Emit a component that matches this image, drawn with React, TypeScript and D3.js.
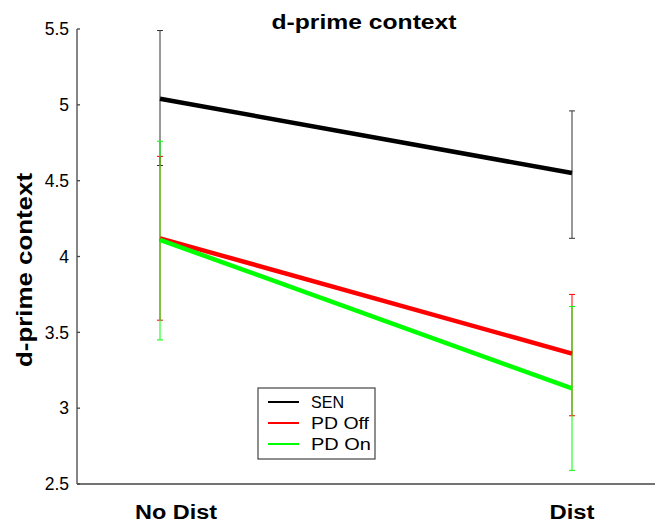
import React from 'react';
import * as d3 from 'd3';

const conditions = ['No Dist', 'Dist'];
const groups = ['SEN', 'PD Off', 'PD On'];
const colors = ['#000000', '#ff0000', '#00ff00'];
const barColors = ['#333333', '#ff0000', '#00ff00'];
const means = [
  [5.04, 4.55],
  [4.12, 3.36],
  [4.11, 3.13],
];
const upper = [
  [5.49, 4.96],
  [4.66, 3.75],
  [4.76, 3.67],
];
const lower = [
  [4.6, 4.12],
  [3.58, 2.95],
  [3.45, 2.59],
];
const yTicks = [2.5, 3, 3.5, 4, 4.5, 5, 5.5];

const W = 659;
const H = 524;
const left = 77;
const right = 655;
const top = 29;
const bottom = 484;

// measured widths of the stretched labels in the reference
const xLabelWidth = [82, 45];
const xLabelShift = [16, 0];
const legendWidth = [33, 58, 60];

export default function App() {
  const x = d3.scalePoint().domain(conditions).range([160, 572]);
  const y = d3.scaleLinear().domain([2.5, 5.5]).range([bottom, top]);
  const line = d3
    .line<number>()
    .x((_, i) => x(conditions[i]) as number)
    .y((d) => y(d));
  const font = 'Arial, "Liberation Sans", Helvetica, sans-serif';

  return (
    <svg
      width={W}
      height={H}
      style={{ position: 'absolute', left: 0, top: 0, background: '#fff' }}
      fontFamily={font}
    >
      {/* axes */}
      <line x1={left} x2={left} y1={top} y2={bottom} stroke="#444" strokeWidth={1.3} />
      <line x1={left} x2={right} y1={bottom} y2={bottom} stroke="#444" strokeWidth={1.3} />
      {yTicks.map((t) => (
        <g key={t}>
          <line x1={left} x2={left + 3} y1={y(t)} y2={y(t)} stroke="#444" strokeWidth={1.3} />
          <text x={69} y={y(t)} dy="0.36em" textAnchor="end" fontSize={17.5} fill="#000">
            {t}
          </text>
        </g>
      ))}
      {conditions.map((c, i) => (
        <text
          key={c}
          x={(x(c) as number) + xLabelShift[i]}
          y={519}
          textAnchor="middle"
          fontSize={20}
          fontWeight="bold"
          textLength={xLabelWidth[i]}
          lengthAdjust="spacingAndGlyphs"
        >
          {c}
        </text>
      ))}
      <text
        transform={`translate(32,270) rotate(-90)`}
        textAnchor="middle"
        fontSize={22}
        fontWeight="bold"
        textLength={194}
        lengthAdjust="spacingAndGlyphs"
      >
        d-prime context
      </text>
      <text
        x={364}
        y={29}
        textAnchor="middle"
        fontSize={20}
        fontWeight="bold"
        textLength={185}
        lengthAdjust="spacingAndGlyphs"
      >
        d-prime context
      </text>

      {/* error bars */}
      {groups.map((g, gi) =>
        conditions.map((c, ci) => {
          const cx = x(c) as number;
          return (
            <g key={g + c} stroke={barColors[gi]} strokeWidth={1}>
              <line x1={cx} x2={cx} y1={y(upper[gi][ci])} y2={y(lower[gi][ci])} />
              <line x1={cx - 3} x2={cx + 3} y1={y(upper[gi][ci])} y2={y(upper[gi][ci])} />
              <line x1={cx - 3} x2={cx + 3} y1={y(lower[gi][ci])} y2={y(lower[gi][ci])} />
            </g>
          );
        })
      )}

      {/* mean lines */}
      {groups.map((g, gi) => (
        <path key={g} d={line(means[gi]) as string} fill="none" stroke={colors[gi]} strokeWidth={4.5} />
      ))}

      {/* legend */}
      <rect x={258} y={388} width={117} height={71} fill="#fff" stroke="#444" strokeWidth={1.2} />
      {groups.map((g, gi) => (
        <g key={g} transform={`translate(0,${402 + gi * 21})`}>
          <line x1={268} x2={299} y1={0} y2={0} stroke={colors[gi]} strokeWidth={2} />
          <text
            x={311}
            y={0}
            dy="0.36em"
            fontSize={16.5}
            textLength={legendWidth[gi]}
            lengthAdjust="spacingAndGlyphs"
          >
            {g}
          </text>
        </g>
      ))}
    </svg>
  );
}
